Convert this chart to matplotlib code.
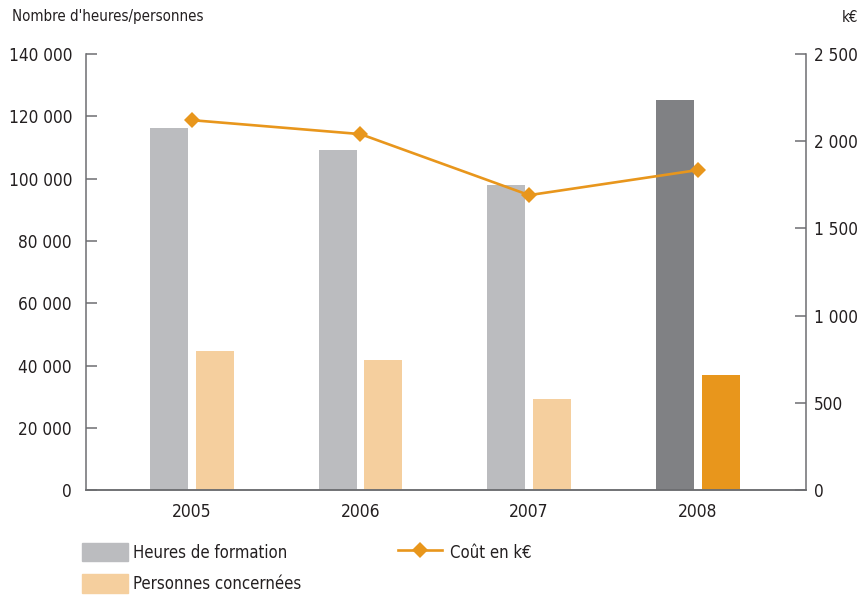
import matplotlib
matplotlib.use('Agg')
import numpy as np
import matplotlib.pyplot as plt
from matplotlib.ticker import FuncFormatter, MultipleLocator
from matplotlib.patches import Patch
from matplotlib.lines import Line2D

plt.rcParams['font.family'] = ['DejaVu Sans']
plt.rcParams['font.stretch'] = 'condensed'

years = ['2005', '2006', '2007', '2008']
heures = [116200, 109200, 97900, 125200]
personnes = [44600, 41700, 29200, 36900]
cout = [2121, 2041, 1691, 1835]

gray_light = '#bbbcbf'
gray_dark = '#808184'
orange_light = '#f5cf9e'
orange = '#e8961c'
spine_col = '#6d6e71'
text_col = '#231f20'

def fmt_space(v, pos):
    return '{:,}'.format(int(round(v))).replace(',', ' ')

fig = plt.figure(figsize=(8.6, 5.97), dpi=100)
ax = fig.add_axes([0.1, 0.179, 0.837, 0.7305])

x = np.arange(len(years))
w = 0.225
off = 0.136
heures_cols = [gray_light] * 3 + [gray_dark]
pers_cols = [orange_light] * 3 + [orange]
ax.bar(x - off, heures, width=w, color=heures_cols, zorder=2)
ax.bar(x + off, personnes, width=w, color=pers_cols, zorder=2)

ax.set_xlim(-0.627, 3.64)
ax.set_ylim(0, 140000)
ax.yaxis.set_major_locator(MultipleLocator(20000))
ax.yaxis.set_major_formatter(FuncFormatter(fmt_space))
ax.set_xticks(x)
ax.set_xticklabels(years)
ax.tick_params(axis='x', length=0, pad=9, labelsize=12.5, colors=text_col)
ax.tick_params(axis='y', direction='in', length=8, width=1.1, color=spine_col,
               pad=10, labelsize=12.3, labelcolor=text_col)

ax2 = ax.twinx()
ax2.plot(x, cout, color=orange, lw=1.9, marker='D', markersize=8.5,
         markeredgewidth=0, zorder=3)
ax2.set_ylim(0, 2500)
ax2.yaxis.set_major_locator(MultipleLocator(500))
ax2.yaxis.set_major_formatter(FuncFormatter(fmt_space))
ax2.tick_params(axis='y', direction='in', length=8, width=1.1, color=spine_col,
                pad=6, labelsize=12.3, labelcolor=text_col)

for a in (ax, ax2):
    a.spines['top'].set_visible(False)
    for s in ('left', 'right', 'bottom'):
        a.spines[s].set_color(spine_col)
        a.spines[s].set_linewidth(1.1)
ax.spines['right'].set_visible(False)
ax2.spines['left'].set_visible(False)

fig.text(12 / 860, 1 - 17 / 597, "Nombre d'heures/personnes", fontsize=10.8,
         color=text_col, va='center', ha='left')
fig.text(858 / 860, 1 - 17 / 597, 'k€', fontsize=10.8,
         color=text_col, va='center', ha='right')

# legend: bars on the left, cost line on the right
bar_handles = [Patch(color=gray_light, label='Heures de formation'),
               Patch(color=orange_light, label='Personnes concernées')]
fig.legend(handles=bar_handles, loc='upper left',
           bbox_to_anchor=(82 / 860, 1 - 543 / 597), frameon=False,
           fontsize=12, handlelength=2.76, handleheight=1.32,
           handletextpad=0.3, labelspacing=0.75, borderpad=0,
           borderaxespad=0, labelcolor=text_col)
line_handle = [Line2D([], [], color=orange, lw=1.9, marker='D', markersize=8.5,
                      markeredgewidth=0, label='Coût en k€')]
fig.legend(handles=line_handle, loc='upper left',
           bbox_to_anchor=(398 / 860, 1 - 543 / 597), frameon=False,
           fontsize=12, handlelength=2.65, handleheight=1.32,
           handletextpad=0.45, borderpad=0, borderaxespad=0,
           labelcolor=text_col)

fig.savefig('out.png', dpi=100)
